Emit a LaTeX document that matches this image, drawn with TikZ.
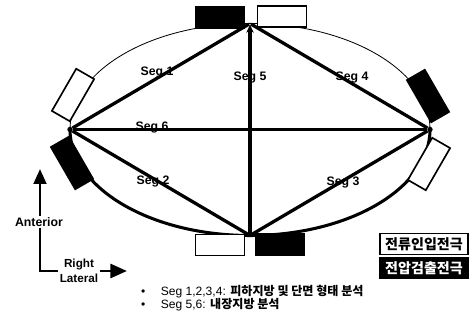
\documentclass[tikz,border=0pt]{standalone}
\usepackage{fontspec}
\setmainfont{Liberation Sans}
\newfontfamily\kr{Noto Sans CJK KR}
\usetikzlibrary{arrows.meta, positioning}

\tikzset{
  seg/.style={line width=2.8pt},
  vtx/.style={circle, fill=black, inner sep=0pt, minimum size=1.6mm},
  elec/.style={draw=black, line width=1.4pt, minimum width=14.6mm, minimum height=6.2mm, inner sep=0pt},
  inj/.style={elec, fill=white},
  det/.style={elec, fill=black},
  seglabel/.style={font=\bfseries\fontsize{10.5}{12}\selectfont, inner sep=1pt},
  axis/.style={line width=2.4pt},
  legend/.style={draw=black, line width=1.6pt, minimum width=26.4mm, minimum height=6.3mm, inner sep=0pt, font=\fontsize{12}{14}\selectfont},
  note/.style={anchor=west, inner sep=0pt, font=\fontsize{10.3}{12}\selectfont},
}

\begin{document}
\begin{tikzpicture}[x=0.3mm, y=-0.3mm]
    \useasboundingbox (0,0) rectangle (469,320);
    % ellipse, heavier on the lower half
    \draw[line width=0.7pt] (250,129.5) ellipse (180 and 106);
    \draw[line width=2.6pt] (70,129.5) arc[start angle=180, end angle=0, x radius=180, y radius=106];

    % electrodes
    \node[det] (eTl) at (220,17.5) {};
    \node[inj] (eTr) at (282,16.5) {};
    \node[det, rotate=-60] (eRt) at (428,96) {};
    \node[inj, rotate=60] (eRb) at (429,164) {};
    \node[det] (eBr) at (280,244.5) {};
    \node[inj] (eBl) at (220,245) {};
    \node[det, rotate=-60] (eLb) at (72,163) {};
    \node[inj, rotate=60] (eLt) at (73,95) {};

    % corner points
    \node[vtx] (L) at (70,129.5) {};
    \node[vtx] (R) at (430,129.5) {};
    \node[vtx, minimum size=0.6mm] (T) at (250,23.5) {};
    \node[vtx, minimum size=0.6mm] (B) at (250,235.5) {};

    % segments
    \draw[seg] (L) -- (T);
    \draw[seg] (L) -- (B);
    \draw[seg] (B) -- (R);
    \draw[seg] (T) -- (R);
    \draw[seg] (L) -- (R);
    \draw[seg, -{Stealth[length=2.4mm, width=2.2mm]}] (B) -- (T);

    \node[seglabel] (s1) at (157,73) {Seg 1};
    \node[seglabel] (s2) at (153,182) {Seg 2};
    \node[seglabel] (s3) at (343,183) {Seg 3};
    \node[seglabel] (s4) at (352,78) {Seg 4};
    \node[seglabel] (s5) at (250,78) {Seg 5};
    \node[seglabel] (s6) at (152,128) {Seg 6};

    % body directions
    \node[seglabel] (ant) at (39,222) {Anterior};
    \coordinate (antTip) at (40,169);
    \draw[axis, -{Triangle[length=4.5mm, width=3.8mm]}] (ant.north -| antTip) -- (antTip);
    \node[seglabel, align=center, font=\bfseries\fontsize{10}{12.5}\selectfont] (lat) at (79,271) {Right\\Lateral};
    \draw[axis] (ant.south -| antTip) |- (lat.west);
    \coordinate (latTip) at (127,271);
    \draw[axis, -{Triangle[length=5mm, width=4.2mm]}] (lat.east) -- (latTip);

    % legend
    \node[legend, fill=white, text=black] (legInj) at (424,244) {\kr\bfseries 전류인입전극};
    \node[legend, fill=black, text=white] (legDet) at (424,268) {\kr\bfseries 전압검출전극};

    \node[note] (note1) at (141,292) {\textbullet\hspace{4.6mm}Seg 1,2,3,4: {\kr\bfseries 피하지방 및 단면 형태 분석}};
    \node[note] (note2) at (141,305) {\textbullet\hspace{4.6mm}Seg 5,6: {\kr\bfseries 내장지방 분석}};
\end{tikzpicture}
\end{document}
